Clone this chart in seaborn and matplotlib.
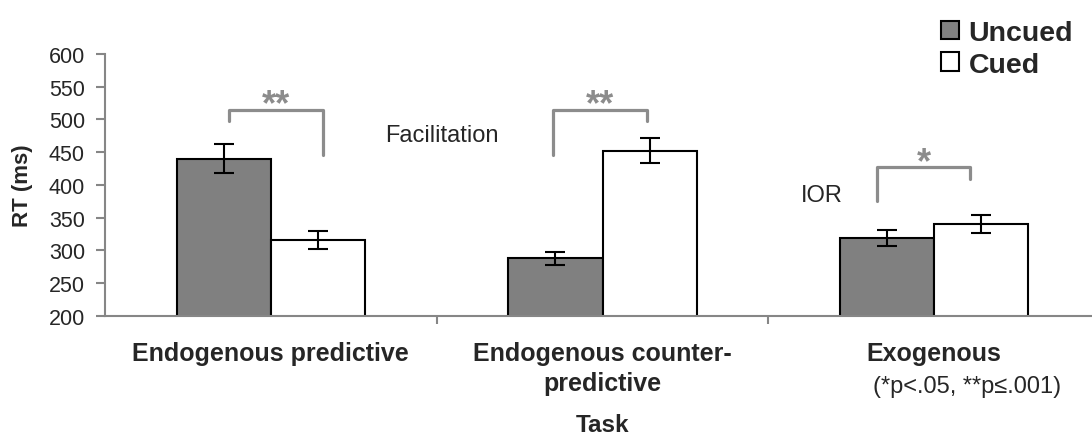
import matplotlib
matplotlib.use("Agg")
import matplotlib.pyplot as plt
from matplotlib.patches import Patch
import seaborn as sns
import pandas as pd

# ---- data ----
tasks = ["Endogenous predictive", "Endogenous counter-\npredictive", "Exogenous"]
conditions = ["Uncued", "Cued"]
uncued_rt = [440, 288, 319]
cued_rt = [316, 452, 340]
uncued_err = [22, 10, 12]
cued_err = [14, 19, 14]
y_ticks = [200, 250, 300, 350, 400, 450, 500, 550, 600]

# significance brackets (x in category units, y in ms)
br_left = [-0.126, 0.851, 1.828]
br_right = [0.157, 1.134, 2.109]
br_top = [515, 515, 427]
br_left_end = [498, 446, 375]
br_right_end = [445, 498, 409]
br_stars = ["**", "**", "*"]

sns.set_style("white")
plt.rcParams["font.family"] = ["Liberation Sans", "DejaVu Sans"]

df = pd.DataFrame({
    "Task": tasks * 2,
    "Condition": ["Uncued"] * 3 + ["Cued"] * 3,
    "RT": uncued_rt + cued_rt,
})

fig = plt.figure(figsize=(10.92, 4.35), dpi=100)
ax = fig.add_axes([105 / 1092, 1 - 316.7 / 435, 995 / 1092, 261.7 / 435])

palette = {"Uncued": "#808080", "Cued": "#ffffff"}
sns.barplot(data=df, x="Task", y="RT", hue="Condition", order=tasks,
            hue_order=conditions, palette=palette, edgecolor="black",
            linewidth=1.5, width=0.567, errorbar=None, ax=ax, legend=False,
            saturation=1)

errs = {"Uncued": uncued_err, "Cued": cued_err}
for cont, cond in zip(ax.containers, conditions):
    for bar, e in zip(cont, errs[cond]):
        xc = bar.get_x() + bar.get_width() / 2
        ax.errorbar(xc, bar.get_height(), yerr=e, fmt="none", ecolor="black",
                    elinewidth=1.5, capsize=7, capthick=1.5, zorder=5)

# brackets
bcol = "#8c8c8c"
for xl, xr, yt, yl, yr, s in zip(br_left, br_right, br_top, br_left_end,
                                  br_right_end, br_stars):
    ax.plot([xl, xl, xr, xr], [yl, yt, yt, yr], color=bcol, lw=2.3,
            solid_joinstyle="round", zorder=4)
    ax.text((xl + xr) / 2, yt - 7, s, ha="center", va="baseline",
            fontsize=26, fontweight="bold", color=bcol)

ax.text(0.515, 467.5, "Facilitation", ha="center", va="baseline", fontsize=17)
ax.text(1.662, 375.8, "IOR", ha="center", va="baseline", fontsize=17)
ax.text(2.098, 92.6, "(*p<.05, **p\u2264.001)", ha="center", va="center",
        fontsize=17, clip_on=False)

ax.set_xlim(-0.5, 2.5)
ax.set_ylim(200, 600)
ax.set_yticks(y_ticks)
ax.set_yticklabels([str(v) for v in y_ticks])
ax.set_xticks(range(3))
ax.set_xticklabels(tasks, fontsize=18, fontweight="bold", linespacing=1.35)
ax.set_xticks([0.5, 1.5], minor=True)

spine_col = "#868686"
for side in ["top", "right"]:
    ax.spines[side].set_visible(False)
for side in ["left", "bottom"]:
    ax.spines[side].set_color(spine_col)
    ax.spines[side].set_linewidth(1.5)
ax.tick_params(axis="y", which="major", length=6.5, width=1.5, color=spine_col,
               labelsize=15.5, pad=8.0, left=True, direction="out")
ax.tick_params(axis="x", which="major", length=0, pad=18)
ax.tick_params(axis="x", which="minor", length=5.5, width=1.5, color=spine_col,
               bottom=True, direction="out")

ax.set_ylabel("RT (ms)", fontsize=16, fontweight="bold")
ax.yaxis.set_label_coords(-0.0724, 0.5)
ax.set_xlabel("Task", fontsize=17.5, fontweight="bold")
ax.xaxis.set_label_coords(0.5, -0.372)
ax.xaxis.label.set_va("top")

handles = [Patch(facecolor="#808080", edgecolor="black", linewidth=1.5),
           Patch(facecolor="white", edgecolor="black", linewidth=1.5)]
ax.legend(handles, conditions, loc="upper left",
          bbox_to_anchor=(940.7 / 1092, 1 - 21 / 435),
          bbox_transform=fig.transFigure, frameon=False, borderpad=0,
          borderaxespad=0, handlelength=0.63, handleheight=0.63,
          handletextpad=0.35, labelspacing=0.2,
          prop={"size": 20.5, "weight": "bold"})

fig.savefig("out.png", dpi=100)
